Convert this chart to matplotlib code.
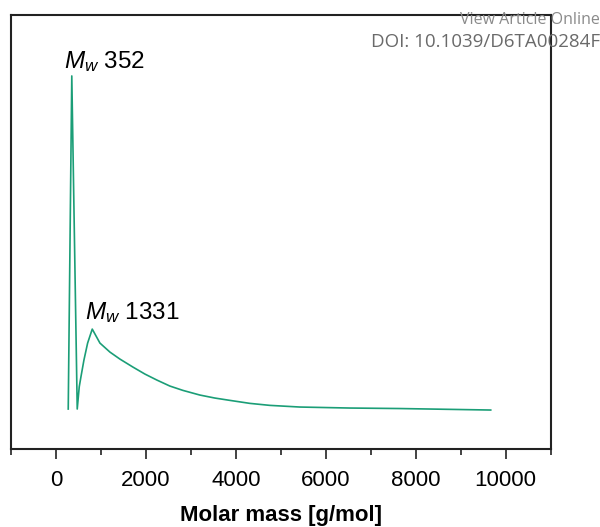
import numpy as np
import matplotlib
matplotlib.use('Agg')
import matplotlib.pyplot as plt
from matplotlib.ticker import MultipleLocator

plt.rcParams['font.family'] = ['Liberation Sans', 'DejaVu Sans']
plt.rcParams['mathtext.fontset'] = 'custom'
plt.rcParams['mathtext.rm'] = 'Liberation Sans'
plt.rcParams['mathtext.it'] = 'Liberation Sans:italic'

# GPC trace (normalised intensity)
molar_mass = [273, 352, 473, 518, 556, 622, 704, 807, 978, 1200, 1422, 1711,
              1978, 2244, 2533, 2822, 3200, 3533, 3867, 4311, 4756, 5422,
              6533, 7644, 9667]
intensity = [0.0, 1.0, 0.0, 0.067, 0.097, 0.147, 0.198, 0.240, 0.198, 0.171, 0.150, 0.126,
             0.105, 0.087, 0.069, 0.056, 0.042, 0.033, 0.026, 0.017, 0.011, 0.006,
             0.003, 0.0015, -0.003]

peak_labels = ['352', '1331']
label_x = [184, 644]
label_y = [1.023, 0.269]

fig = plt.figure(figsize=(6, 5.27), dpi=100)
ax = fig.add_axes([0.0183, 0.148, 0.8995, 0.8235])

ax.plot(molar_mass, intensity, color='#1b9e77', lw=1.2)

for txt, x, y in zip(peak_labels, label_x, label_y):
    ax.text(x, y, r'$M_w$ ' + txt, fontsize=17.5, ha='left', va='baseline')

ax.set_xlim(-1000, 11000)
ax.set_ylim(-0.12, 1.183)
ax.xaxis.set_major_locator(MultipleLocator(2000))
ax.xaxis.set_minor_locator(MultipleLocator(1000))
ax.set_yticks([])
ax.tick_params(axis='x', which='major', direction='out', length=7, width=1.2,
               labelsize=16, pad=8, color='#222222')
ax.tick_params(axis='x', which='minor', direction='out', length=4, width=1.2,
               color='#222222')
for s in ax.spines.values():
    s.set_linewidth(1.5)
    s.set_color('#222222')

ax.set_xlabel('Molar mass [g/mol]', fontsize=16, fontweight='bold', labelpad=10)

# publisher watermark
fig.text(1.0, 0.962, 'View Article Online', ha='right', va='center',
         fontsize=11.5, color='#8a8a8a', family=['Open Sans', 'DejaVu Sans'])
fig.text(1.0, 0.920, 'DOI: 10.1039/D6TA00284F', ha='right', va='center',
         fontsize=13.5, color='#6a6a6a', family=['Open Sans', 'DejaVu Sans'])

fig.savefig('out.png', dpi=100)
